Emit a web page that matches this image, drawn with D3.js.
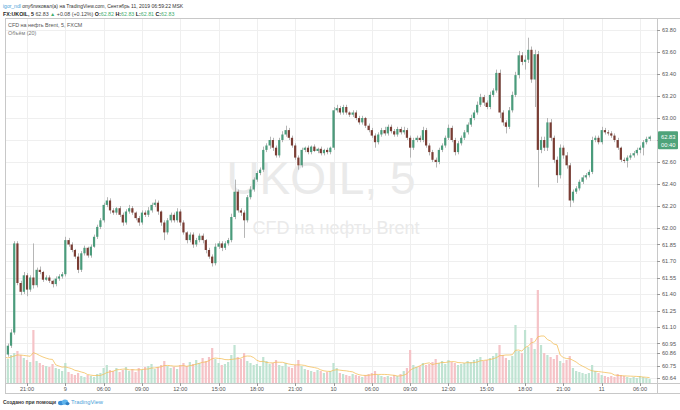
<!DOCTYPE html>
<html><head><meta charset="utf-8">
<script src="https://cdn.jsdelivr.net/npm/d3@7"></script>
<style>
body{margin:0;background:#fff}
svg{display:block;font-family:"Liberation Sans",Arial,sans-serif}
</style>
</head><body>
<svg id="c" width="680" height="410"></svg>
<script>
// ---- data (15-minute candles) ----
const firstOpen = 60.80;
const closes = [
60.85,60.93,61.05,61.86,61.50,61.42,61.57,61.44,61.55,61.48,
61.62,61.60,61.53,61.55,61.52,61.49,61.54,61.56,61.58,61.89,
61.85,61.80,61.74,61.62,61.77,61.82,61.75,61.83,61.92,62.01,
62.07,62.21,62.25,62.16,62.14,62.18,62.12,62.05,62.15,62.18,
62.14,62.09,62.05,62.14,62.12,62.16,62.21,62.23,62.15,62.05,
61.96,62.07,62.12,62.07,62.15,62.05,61.96,61.89,61.94,61.85,
61.89,61.93,61.89,61.80,61.74,61.68,61.83,61.86,61.82,61.86,
61.89,62.10,62.33,62.16,62.14,62.07,62.28,62.35,62.44,62.50,
62.53,62.71,62.75,62.80,62.73,62.66,62.80,62.85,62.89,62.82,
62.75,62.64,62.57,62.71,62.73,62.69,62.74,62.70,62.72,62.68,
62.71,62.69,62.73,63.07,63.09,63.05,63.10,63.05,63.03,63.05,
63.00,62.96,63.00,62.93,62.89,62.84,62.78,62.85,62.89,62.86,
62.92,62.88,62.85,62.90,62.87,62.89,62.82,62.73,62.80,62.82,
62.80,62.89,62.75,62.69,62.62,62.60,62.71,62.75,62.82,62.91,
62.80,62.69,62.77,62.82,62.87,62.94,63.00,63.05,63.12,63.19,
63.14,63.10,63.21,63.25,63.41,63.05,62.96,62.92,63.07,63.21,
63.39,63.57,63.51,63.53,63.62,63.35,63.58,62.71,62.80,62.73,
62.96,62.82,62.62,62.48,62.73,62.66,62.57,62.25,62.33,62.36,
62.42,62.46,62.48,62.51,62.80,62.82,62.78,62.89,62.87,62.86,
62.84,62.80,62.73,62.62,62.61,62.64,62.66,62.68,62.71,62.73,
62.78,62.81,62.83];
// wick length above max(open,close), in cents
const wickUp = [
2,2,3,2,2,2,3,2,2,31, 2,3,1,2,2,1,2,2,2,3, 2,2,1,3,2,2,1,2,2,2,
2,2,3,2,2,1,2,2,2,3, 2,1,2,2,2,3,2,3,2,1, 2,2,2,2,3,2,2,1,2,2,
2,2,2,1,2,2,3,2,2,2, 2,3,11,2,2,2,2,3,2,2, 2,3,2,3,2,2,2,3,4,2,
2,2,2,2,1,2,1,2,1,2, 1,2,1,3,3,2,2,2,1,2, 2,2,2,1,2,2,2,2,2,3,
2,2,2,2,2,3,2,2,2,2, 2,3,2,2,2,2,2,2,2,3, 2,2,2,2,2,2,3,2,3,3,
2,2,3,2,3,3,2,2,3,3, 3,4,3,4,11,3,4,3,3,3, 4,3,2,3,3,2,3,2,2,2,
2,2,2,2,3,2,2,3,2,2, 2,2,2,1,2,2,2,2,2,2, 2,2,1];
// wick length below min(open,close), in cents
const wickDown = [
3,2,2,2,2,3,2,6,2,3, 2,2,2,1,2,3,2,2,2,2, 2,2,2,3,2,2,2,2,1,2,
2,2,2,3,2,2,2,3,2,2, 2,2,3,2,2,2,2,2,3,3, 7,2,2,2,2,3,2,3,2,3,
2,2,3,3,2,3,2,2,3,2, 2,2,2,2,3,16,2,2,2,2, 2,2,2,3,3,2,2,2,2,2,
2,2,4,2,2,2,2,1,2,2, 2,2,2,2,2,2,2,2,2,2, 2,2,2,2,2,2,5,2,2,2,
2,2,2,2,2,2,2,9,2,2, 2,2,2,3,2,5,2,2,2,2, 2,3,2,2,2,2,2,2,2,2,
3,2,2,2,2,5,3,6,2,2, 2,3,3,7,3,3,25,34,3,3, 3,3,3,7,3,3,3,6,2,2,
2,2,2,2,2,2,2,2,2,2, 2,2,2,2,2,6,2,2,2,3, 7,2,2];
const volumes = [
260,240,280,300,320,280,250,230,210,530, 220,200,180,170,160,190,150,140,120,200,
110,90,80,100,70,60,80,70,60,90, 100,150,180,130,120,150,110,130,160,120,
140,110,150,130,160,170,190,140,160,180, 220,170,150,160,140,180,200,170,210,190,
230,200,250,220,260,350,240,200,180,190, 210,280,380,260,240,300,220,200,180,190,
170,260,220,190,200,230,180,170,200,160, 150,180,230,170,140,130,120,110,130,120,
100,110,120,200,150,100,90,80,70,90, 80,70,60,80,90,100,120,80,70,60,
70,60,80,70,90,120,150,330,180,160, 170,200,180,190,210,240,200,220,190,230,
210,200,180,190,200,220,210,230,240,260, 220,230,250,270,300,380,280,250,230,270,
580,320,300,530,360,450,340,930,380,300, 280,260,240,280,220,200,230,270,150,120,
110,100,90,100,180,120,100,80,70,60, 70,60,90,80,70,60,50,60,50,70,
60,50,40];
const priceTicks = [63.80,63.60,63.40,63.20,63.00,62.80,62.60,62.40,62.20,62.00,61.85,61.70,61.55,61.40,61.25,61.10,60.95,60.86,60.75,60.64];
const timeTickIndex = [7,19,31,43,55,67,79,91,103,115,127,139,151,163,175,187,199];
const timeTickLabels = ["21:00","9","06:00","09:00","12:00","15:00","18:00","21:00","10","06:00","09:00","12:00","15:00","18:00","21:00","11","06:00"];
const lastPrice = "62.83", countdown = "00:40";
const maPeriod = 7;

// ---- layout ----
const W = 680, H = 410;
const pane = {l:5, t:18, r:657, b:383};
const svg = d3.select("#c");

const x = d3.scaleLinear().domain([7,199]).range([27,640]);
const y = d3.scaleLinear().domain([63.80,60.64]).range([30,377.6]);
const yv = d3.scaleLinear().domain([0,1000]).range([pane.b,pane.b-100]);

const candles = closes.map((c,i)=>{
  const o = i===0 ? firstOpen : closes[i-1];
  return {i, o, c, h: Math.max(o,c)+wickUp[i]/100, l: Math.min(o,c)-wickDown[i]/100, v: volumes[i]};
});

const UP="#4a9b7b", DN="#7a3d34", WICK="#a3a3a3";
const GRID="#efefef", BORDER="#c8c8c8", TXT="#555";

svg.append("rect").attr("width",W).attr("height",H).attr("fill","#fff");
svg.append("defs").append("clipPath").attr("id","pc").append("rect")
  .attr("x",pane.l).attr("y",pane.t).attr("width",pane.r-pane.l).attr("height",pane.b-pane.t);

// grid
const g = svg.append("g");
g.selectAll(".hg").data(priceTicks).join("line")
  .attr("x1",pane.l).attr("x2",pane.r)
  .attr("y1",d=>Math.round(y(d))+0.5).attr("y2",d=>Math.round(y(d))+0.5)
  .attr("stroke",GRID);
g.selectAll(".vg").data(timeTickIndex).join("line")
  .attr("y1",pane.t).attr("y2",pane.b)
  .attr("x1",d=>Math.round(x(d))+0.5).attr("x2",d=>Math.round(x(d))+0.5)
  .attr("stroke",GRID);

// watermark
svg.append("text").attr("x",321).attr("y",194).attr("text-anchor","middle")
  .attr("font-size",46).attr("fill","#eaeaea").text("UKOIL, 5");
svg.append("text").attr("x",336).attr("y",234).attr("text-anchor","middle")
  .attr("font-size",18).attr("fill","#eaeaea").text("CFD на нефть Brent");

const plot = svg.append("g").attr("clip-path","url(#pc)");
const bw = 2.2;
// volume
plot.selectAll(".vol").data(candles).join("rect")
  .attr("x",d=>x(d.i)-bw/2).attr("width",bw)
  .attr("y",d=>yv(d.v)).attr("height",d=>pane.b-yv(d.v))
  .attr("fill",d=>d.c>=d.o?"#bfe3d2":"#f5c3c7");
// volume MA
const ma = candles.map((d,i)=>{
  const s = volumes.slice(Math.max(0,i-maPeriod+1), i+1);
  return {i, v: d3.mean(s)};
});
plot.append("path").datum(ma)
  .attr("d",d3.line().x(d=>x(d.i)).y(d=>yv(d.v)))
  .attr("fill","none").attr("stroke","#f3bd55").attr("stroke-width",0.9).attr("opacity",0.85);

// candles
plot.selectAll(".wk").data(candles).join("line")
  .attr("x1",d=>Math.round(x(d.i))+0.5).attr("x2",d=>Math.round(x(d.i))+0.5)
  .attr("y1",d=>y(d.h)).attr("y2",d=>y(d.l))
  .attr("stroke",WICK).attr("stroke-width",0.8);
plot.selectAll(".bd").data(candles).join("rect")
  .attr("x",d=>x(d.i)-bw/2).attr("width",bw)
  .attr("y",d=>y(Math.max(d.o,d.c)))
  .attr("height",d=>Math.max(0.8, Math.abs(y(d.o)-y(d.c))))
  .attr("fill",d=>d.c>=d.o?UP:DN);

// borders
const bl = (x1,y1,x2,y2)=>svg.append("line").attr("x1",x1).attr("y1",y1).attr("x2",x2).attr("y2",y2).attr("stroke",BORDER);
bl(pane.l,pane.t+0.5,W,pane.t+0.5);
bl(pane.l+0.5,pane.t,pane.l+0.5,393);
bl(pane.r+0.5,pane.t,pane.r+0.5,393);
bl(pane.l,pane.b+0.5,W,pane.b+0.5);
bl(pane.l,393.5,W,393.5);

// price axis (label hidden where the last-price box sits)
const lp = y(+lastPrice);
const pa = svg.append("g");
pa.selectAll(".pt").data(priceTicks).join("line")
  .attr("x1",pane.r).attr("x2",pane.r+3)
  .attr("y1",d=>Math.round(y(d))+0.5).attr("y2",d=>Math.round(y(d))+0.5)
  .attr("stroke","#999");
pa.selectAll(".pl").data(priceTicks.filter(d=>Math.abs(y(d)-lp)>12)).join("text")
  .attr("x",pane.r+5).attr("y",d=>y(d)+2)
  .attr("font-size",5.6).attr("fill",TXT).text(d=>d.toFixed(2));

// time axis
const ta = svg.append("g");
ta.selectAll(".tt").data(timeTickIndex).join("line")
  .attr("x1",d=>Math.round(x(d))+0.5).attr("x2",d=>Math.round(x(d))+0.5)
  .attr("y1",pane.b).attr("y2",pane.b+3).attr("stroke","#999");
ta.selectAll(".tl").data(timeTickIndex).join("text")
  .attr("x",d=>x(d)).attr("y",391).attr("text-anchor","middle")
  .attr("font-size",5.6).attr("fill",TXT).text((d,i)=>timeTickLabels[i]);

// last price label
svg.append("rect").attr("x",pane.r+1).attr("y",lp-5.5).attr("width",W-pane.r-3).attr("height",18)
  .attr("fill","#4fa37a").attr("rx",1);
svg.append("text").attr("x",pane.r+4).attr("y",lp+2).attr("font-size",5.8).attr("fill","#fff").text(lastPrice);
svg.append("text").attr("x",pane.r+4).attr("y",lp+10).attr("font-size",5.8).attr("fill","#fff").text(countdown);

// header
const h1 = svg.append("text").attr("x",3).attr("y",8).attr("font-size",5.0).attr("fill","#333");
h1.append("tspan").attr("fill","#4aa0d8").text("igor_ndl");
h1.append("tspan").text(" опубликовал(а) на TradingView.com, Сентябрь 11, 2019 06:59:22 MSK");
const GREEN="#3fae6e";
const h2 = svg.append("text").attr("x",3).attr("y",15.5).attr("font-size",5.3).attr("font-weight","bold").attr("fill","#222");
h2.append("tspan").text("FX:UKOIL, 5 ");
h2.append("tspan").attr("font-weight","normal").attr("fill","#444").text("62.83 ");
h2.append("tspan").attr("fill",GREEN).text("▲");
h2.append("tspan").attr("font-weight","normal").attr("fill","#444").text(" +0.08 (+0.12%) ");
[["O:","62.82"],["H:","62.83"],["L:","62.81"],["C:","62.83"]].forEach(([k,v],i)=>{
  h2.append("tspan").text(k);
  h2.append("tspan").attr("font-weight","normal").attr("fill",GREEN).text(v+(i<3?" ":""));
});
svg.append("text").attr("x",8).attr("y",27).attr("font-size",5.4).attr("fill","#555").text("CFD на нефть Brent, 5, FXCM");
svg.append("text").attr("x",8).attr("y",35).attr("font-size",5.4).attr("fill","#777").text("Объём (20)");

// footer
svg.append("text").attr("x",3).attr("y",404).attr("font-size",5.0).attr("font-weight","bold").attr("fill","#333").text("Создано при помощи");
const logo = svg.append("g").attr("transform","translate(58,399)");
logo.append("ellipse").attr("cx",3).attr("cy",4).attr("rx",3).attr("ry",2.2).attr("fill","#3b8fd6");
logo.append("ellipse").attr("cx",7).attr("cy",3.2).attr("rx",3.2).attr("ry",2.6).attr("fill","#5fb4ec");
logo.append("ellipse").attr("cx",9.5).attr("cy",4.6).attr("rx",2).attr("ry",1.6).attr("fill","#2f7fc4");
svg.append("text").attr("x",71).attr("y",404).attr("font-size",5.8).attr("fill","#4aa0d8").text("TradingView");
</script>
</body></html>
